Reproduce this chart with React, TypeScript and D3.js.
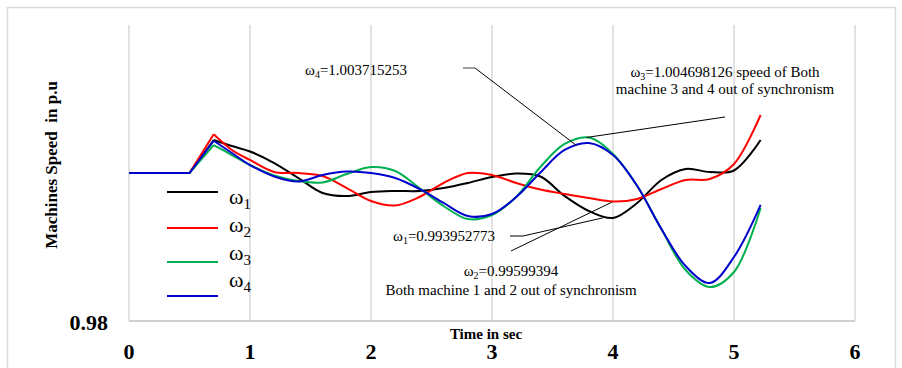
import React from "react";
import * as d3 from "d3";

// time axis (sec) and machine speeds (p.u)
const time = [
  0, 0.5, 0.7, 0.85, 1.0, 1.2, 1.4, 1.6, 1.8, 2.0, 2.2, 2.4, 2.6, 2.8, 3.0,
  3.2, 3.4, 3.6, 3.8, 4.0, 4.2, 4.4, 4.6, 4.8, 5.0, 5.22,
];
const omega1 = [
  1, 1, 1.00446, 1.00365, 1.00291, 1.00135, 0.99932, 0.9973, 0.99689, 0.99743,
  0.99757, 0.99757, 0.99797, 0.99865, 0.99946, 0.99993, 0.99953, 0.99689,
  0.99486, 0.99392, 0.99595, 0.99905, 1.00054, 1.00014, 1.00034, 1.00446,
];
const omega2 = [
  1, 1, 1.00523, 1.00311, 1.00176, 1.00014, 1.0, 0.99959, 0.99797, 0.99622,
  0.99561, 0.99676, 0.99865, 1.0, 0.99973, 0.99865, 0.99777, 0.99716, 0.99662,
  0.99615, 0.99649, 0.99784, 0.99905, 0.99919, 1.00122, 1.00784,
];
const omega3 = [
  1, 1, 1.00378, 1.00243, 1.00108, 0.99966, 0.99892, 0.99872, 0.99986, 1.00081,
  1.00027, 0.99797, 0.99554, 0.99378, 0.99432, 0.99676, 1.00081, 1.00392,
  1.0048, 1.00257, 0.99824, 0.99243, 0.98689, 0.98459, 0.98662, 0.99527,
];
const omega4 = [
  1, 1, 1.00436, 1.0027, 1.00108, 0.99953, 0.99885, 0.99973, 1.0002, 1.0,
  0.99932, 0.99784, 0.99595, 0.99419, 0.99446, 0.99676, 1.00007, 1.00311,
  1.00405, 1.00243, 0.99824, 0.99243, 0.98743, 0.98514, 0.98865, 0.99568,
];

const seriesNames = ["1", "2", "3", "4"];
const seriesColors = ["#000000", "#ff0000", "#00b050", "#0000cc"];
const xTicks = [0, 1, 2, 3, 4, 5, 6];
const yTickLabel = "0.98";

const serif = "'Liberation Serif', 'Times New Roman', serif";

const App = () => {
  const width = 902;
  const height = 368;

  const x = d3.scaleLinear().domain([0, 6]).range([129, 855]);
  const y = d3.scaleLinear().domain([0.98, 1.02]).range([321, 25]);

  const allSeries = [omega1, omega2, omega3, omega4];

  // ramp 0 -> 0.7 s is straight, the swing after it is smooth
  const ramp = d3
    .line<number>()
    .x((_, i) => x(time[i]))
    .y((d) => y(d))
    .curve(d3.curveLinear);
  const swing = d3
    .line<number>()
    .x((_, i) => x(time[i + 2]))
    .y((d) => y(d))
    .curve(d3.curveCatmullRom.alpha(0.5));

  const legendY = [192, 228, 262, 296];
  const legendLabelY = [204, 232, 260, 287];

  return (
    <>
      <style>{"body{margin:0}"}</style>
      <svg width={width} height={height} style={{ display: "block" }}>
        <rect x={0} y={0} width={width} height={height} fill="#fff" />
        <rect
          x={7.5}
          y={7.5}
          width={888}
          height={400}
          fill="none"
          stroke="#d9d9d9"
          strokeWidth={1.5}
        />

        {/* grid */}
        {xTicks.map((t) => (
          <line
            key={t}
            x1={x(t)}
            x2={x(t)}
            y1={25}
            y2={y(0.98)}
            stroke="#d9d9d9"
            strokeWidth={1.5}
          />
        ))}
        <line
          x1={x(0)}
          x2={x(6)}
          y1={y(0.98)}
          y2={y(0.98)}
          stroke="#bfbfbf"
          strokeWidth={1.5}
        />

        {/* tick labels */}
        {xTicks.map((t) => (
          <text
            key={t}
            x={x(t)}
            y={359}
            textAnchor="middle"
            fontFamily={serif}
            fontWeight="bold"
            fontSize={22}
          >
            {t}
          </text>
        ))}
        <text
          x={108}
          y={y(0.98) + 9}
          textAnchor="end"
          fontFamily={serif}
          fontWeight="bold"
          fontSize={22}
        >
          {yTickLabel}
        </text>

        {/* axis titles */}
        <text
          x={486}
          y={339}
          textAnchor="middle"
          fontFamily={serif}
          fontWeight="bold"
          fontSize={15}
        >
          Time in sec
        </text>
        <text
          transform="translate(57,165) rotate(-90)"
          textAnchor="middle"
          fontFamily={serif}
          fontWeight="bold"
          fontSize={17}
          style={{ whiteSpace: "pre" }}
        >
          {"Machines Speed  in p.u"}
        </text>

        {/* series */}
        {allSeries.map((s, i) => (
          <g key={i} fill="none" stroke={seriesColors[i]} strokeWidth={2}>
            <path d={ramp(s.slice(0, 3)) || ""} />
            <path d={swing(s.slice(2)) || ""} />
          </g>
        ))}

        {/* legend */}
        {seriesNames.map((n, i) => (
          <g key={n}>
            <line
              x1={167}
              x2={218}
              y1={legendY[i]}
              y2={legendY[i]}
              stroke={seriesColors[i]}
              strokeWidth={2}
            />
            <text x={229} y={legendLabelY[i]} fontFamily={serif} fontSize={22}>
              ω
              <tspan fontSize={15} dy={5}>
                {n}
              </tspan>
            </text>
          </g>
        ))}

        {/* annotations */}
        <g fontFamily={serif} fontSize={15} fill="#000">
          <text x={305} y={75}>
            ω<tspan fontSize={10} dy={3}>4</tspan>
            <tspan dy={-3}>=1.003715253</tspan>
          </text>
          <text x={725} y={77} textAnchor="middle">
            ω<tspan fontSize={10} dy={3}>3</tspan>
            <tspan dy={-3}>=1.004698126 speed of Both</tspan>
          </text>
          <text x={725} y={94} textAnchor="middle">
            machine 3 and 4 out of synchronism
          </text>
          <text x={393} y={241}>
            ω<tspan fontSize={10} dy={3}>1</tspan>
            <tspan dy={-3}>=0.993952773</tspan>
          </text>
          <text x={511} y={276} textAnchor="middle">
            ω<tspan fontSize={10} dy={3}>2</tspan>
            <tspan dy={-3}>=0.99599394</tspan>
          </text>
          <text x={511} y={295} textAnchor="middle">
            Both machine 1 and 2 out of synchronism
          </text>
        </g>

        {/* leader lines */}
        <g fill="none" strokeWidth={1}>
          <line x1={463} y1={68} x2={475} y2={68} stroke="#808080" strokeWidth={1.5} />
          <line x1={475} y1={68} x2={x(3.7)} y2={y(1.0037)} stroke="#000" />
          <line x1={x(3.78)} y1={y(1.0048)} x2={725} y2={117} stroke="#000" />
          <polyline
            points={`510,236 523,236 ${x(3.92)},${y(0.99395)}`}
            stroke="#000"
          />
          <line x1={511} y1={251} x2={x(3.99)} y2={y(0.99605)} stroke="#000" />
        </g>
      </svg>
    </>
  );
};

export default App;
